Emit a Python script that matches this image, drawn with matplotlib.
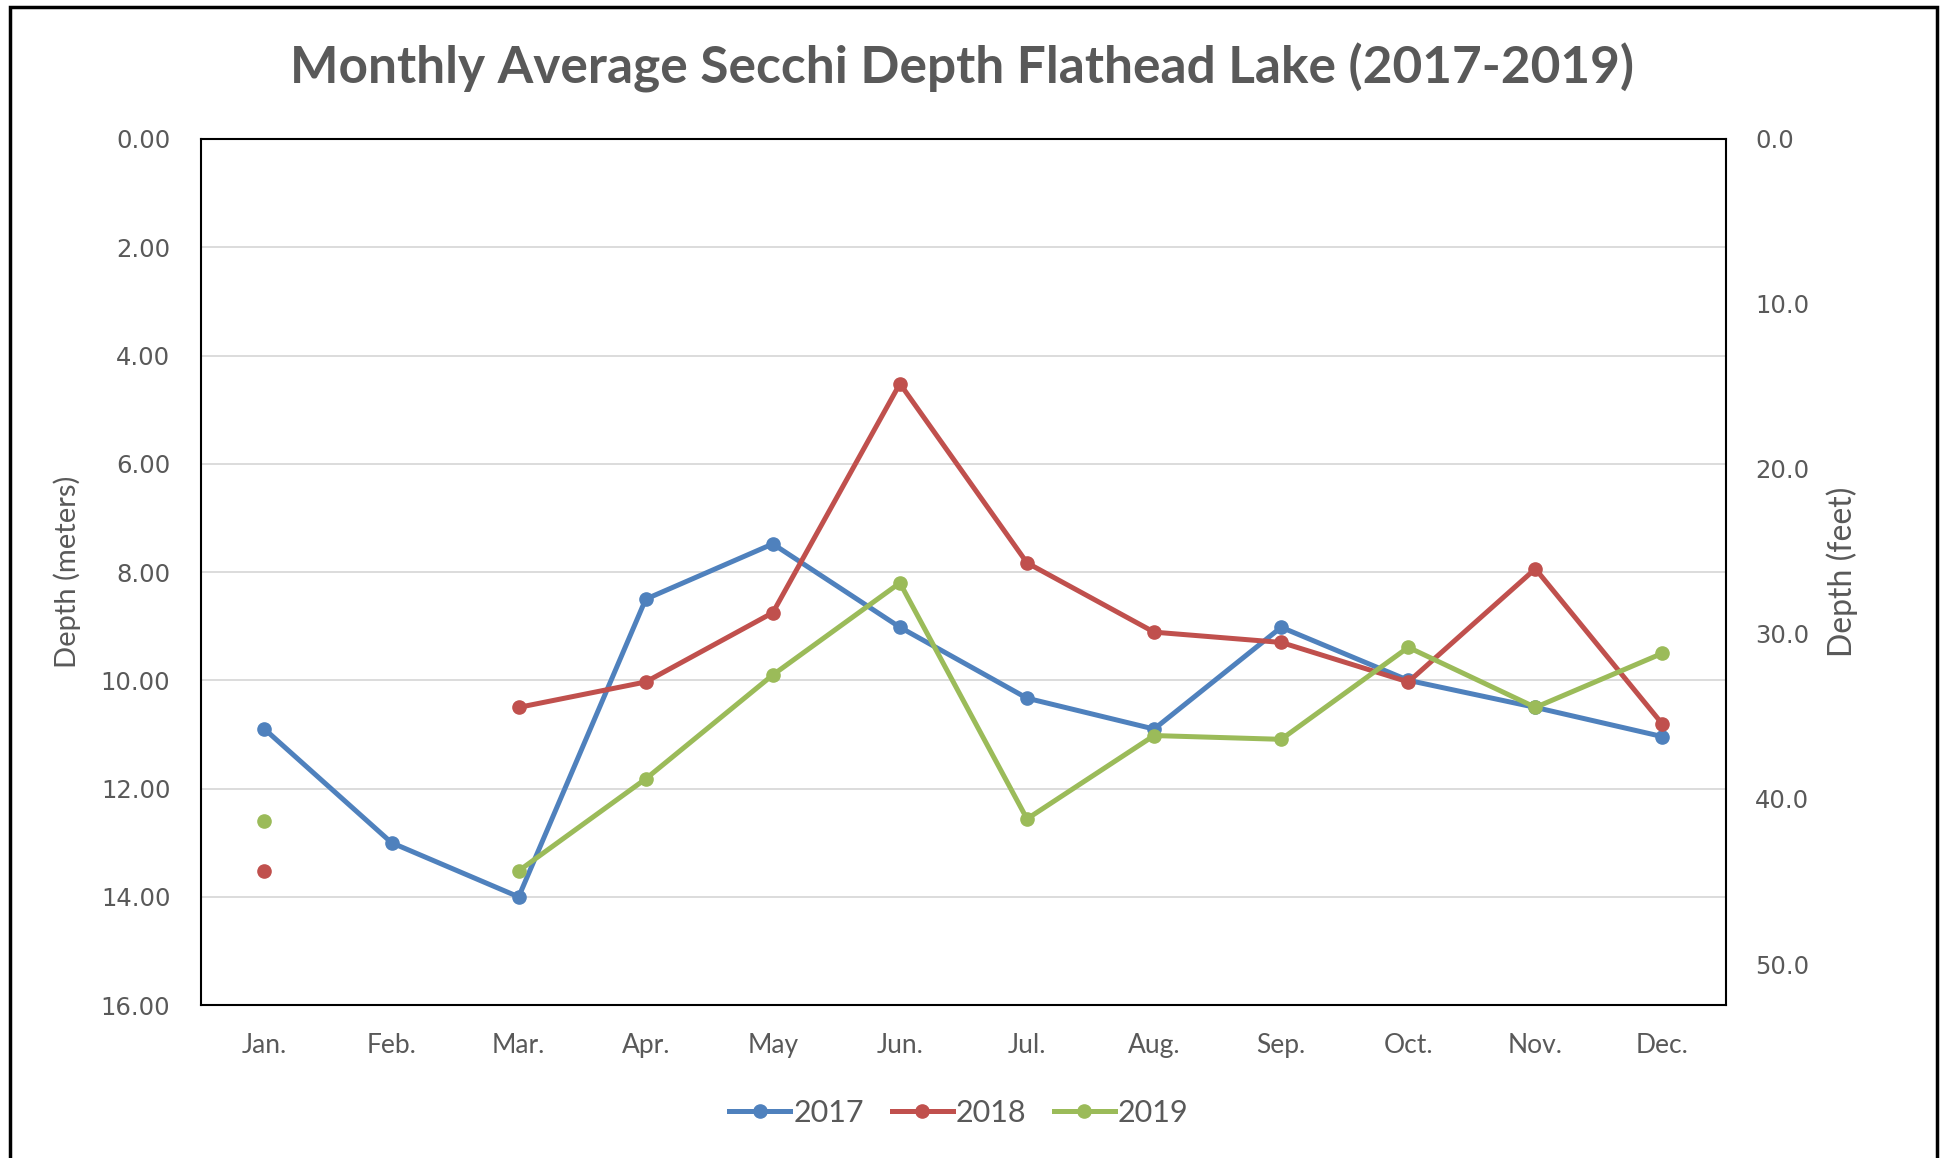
import numpy as np
import matplotlib.pyplot as plt
from matplotlib.patches import Rectangle

months = ['Jan.', 'Feb.', 'Mar.', 'Apr.', 'May', 'Jun.', 'Jul.', 'Aug.', 'Sep.', 'Oct.', 'Nov.', 'Dec.']
nan = np.nan
depth_2017 = [10.9, 13.0, 14.0, 8.5, 7.48, 9.02, 10.33, 10.9, 9.02, 10.0, 10.5, 11.04]
depth_2018 = [13.52, nan, 10.5, 10.03, 8.75, 4.52, 7.83, 9.11, 9.3, 10.03, 7.94, 10.81]
depth_2019 = [12.6, nan, 13.52, 11.82, 9.9, 8.2, 12.56, 11.02, 11.09, 9.39, 10.5, 9.5]
years = ['2017', '2018', '2019']
colors = ['#4F81BD', '#C0504D', '#9BBB59']
m_to_ft = 3.28084

fig = plt.figure(figsize=(19.47, 11.58), dpi=100)
ax = fig.add_axes([0.1032, 0.132, 0.7833, 0.748])

x = np.arange(len(months))
for vals, yr, c in zip([depth_2017, depth_2018, depth_2019], years, colors):
    ax.plot(x, vals, color=c, lw=3.6, marker='o', markersize=9.5, label=yr)

ax.set_xlim(-0.5, 11.5)
ax.set_ylim(16, 0)
ax.set_yticks(np.arange(0, 17, 2))
ax.set_yticklabels([f'{v:.2f}' for v in np.arange(0, 17, 2)], family='DejaVu Sans')
ax.set_xticks(x)
ax.set_xticklabels(months, family='Lato', fontsize=19, color='#595959')
ax.tick_params(axis='both', length=0)
ax.tick_params(axis='y', labelsize=17.5, labelcolor='#595959', pad=22)
ax.tick_params(axis='x', pad=20)
ax.grid(axis='y', color='#D9D9D9', lw=1.3)
ax.set_axisbelow(True)
for s in ax.spines.values():
    s.set_linewidth(1.5)
    s.set_color('black')
ax.set_ylabel('Depth (meters)', fontsize=21, color='#595959', family='Lato', labelpad=14)

ax2 = ax.twinx()
ax2.set_ylim(16 * m_to_ft, 0)
ax2.set_yticks(np.arange(0, 51, 10))
ax2.set_yticklabels([f'{v:.1f}' for v in np.arange(0, 51, 10)], family='DejaVu Sans')
ax2.tick_params(axis='y', length=0, labelsize=17.5, labelcolor='#595959', pad=21)
ax2.set_ylabel('Depth (feet)', fontsize=23, color='#595959', family='Lato', labelpad=12)
for s in ax2.spines.values():
    s.set_visible(False)

fig.suptitle('Monthly Average Secchi Depth Flathead Lake (2017-2019)', x=0.494, y=0.963,
             fontsize=37, fontweight='bold', family='Lato', color='#595959')

leg = ax.legend(loc='lower center', bbox_to_anchor=(0.497, -0.172), ncol=3, frameon=False,
                prop={'family': 'Lato', 'size': 22}, handlelength=2.0, columnspacing=0.9,
                handletextpad=0.1)
for t in leg.get_texts():
    t.set_color('#595959')

fig.patches.append(Rectangle((0.005, -0.02), 0.99, 1.014, transform=fig.transFigure,
                             fill=False, edgecolor='black', lw=2.5))

fig.savefig('out.png', dpi=100)
